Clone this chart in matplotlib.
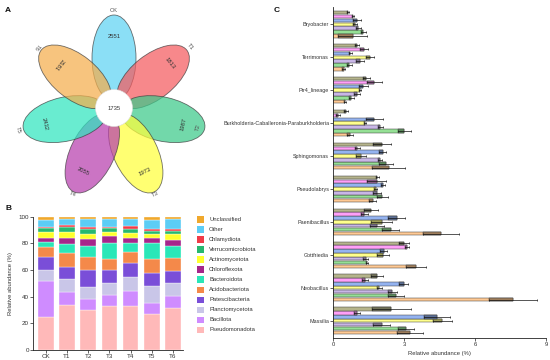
import numpy as np
import matplotlib
matplotlib.use("Agg")
import matplotlib.pyplot as plt
from matplotlib.patches import Ellipse, Circle, Rectangle
from matplotlib.colors import to_rgb

plt.rcParams['font.family'] = ['Liberation Sans', 'DejaVu Sans']
TXT = '#333333'

# ---------------- Panel A data (flower Venn) ----------------
venn_samples = ["CK", "T1", "T2", "T3", "T4", "T5", "T6"]
venn_unique = [2551, 1813, 1987, 1973, 2055, 2432, 2181]
venn_core = 1735
venn_colors = ["#5fd3f3", "#f45a5e", "#3cc98a", "#ffff3c", "#b83fae", "#2fe5bf", "#f4ae4c"]

# ---------------- Panel B data (stacked phyla, %) ----------------
samples = ["CK", "T1", "T2", "T3", "T4", "T5", "T6"]
phyla = ["Pseudomonadota", "Bacillota", "Planctomycetota", "Patescibacteria",
         "Acidobacteriota", "Bacteroidota", "Chloroflexota", "Actinomycetota",
         "Verrucomicrobiota", "Chlamydiota", "Other", "Unclassified"]
pseudomonadota = [25, 34, 30, 33, 33, 27, 31.25]
bacillota = [27, 9.75, 8.5, 8.25, 11.25, 8.5, 9.25]
planctomycetota = [8, 9.25, 9, 8.75, 10.75, 12.5, 9.5]
patescibacteria = [9.5, 9.5, 12.5, 10, 10, 10, 9.5]
acidobacteriota = [7.5, 10.5, 9.5, 8, 8.75, 10.25, 9.75]
bacteroidota = [3.75, 6.25, 8.5, 12.5, 6.25, 11.75, 9]
chloroflexota = [3.5, 4.5, 5.25, 5.25, 4.25, 4.25, 4.25]
actinomycetota = [4.5, 4.5, 4, 2.5, 3.75, 2.5, 4.25]
verrucomicrobiota = [2.5, 3.75, 3.5, 3, 2.75, 2.75, 2.75]
chlamydiota = [1, 1.75, 1.25, 1.25, 2.25, 1.25, 1.25]
other = [5.25, 4.25, 6, 5.5, 5, 6.75, 7.25]
unclassified = [2.5, 2, 2, 2, 2, 2.5, 2]
phyla_colors = ["#ffb9b9", "#cf8cff", "#c9c6e8", "#7a4ed8", "#f4894a", "#2ae7b8",
                "#a6268b", "#ffff2e", "#27b86f", "#f03b47", "#5ccdf5", "#f0a82c"]

# ---------------- Panel C data (genera, mean and SD %) ----------------
genera = ["Bryobacter", "Terrimonas", "Pir4_lineage",
          "Burkholderia-Caballeronia-Paraburkholderia", "Sphingomonas",
          "Pseudolabrys", "Paenibacillus", "Gottfriedia", "Neobacillus", "Massilia"]
ck_mean = [0.82, 0.44, 0.50, 0.69, 2.35, 1.66, 4.55, 3.50, 7.60, 3.25]
ck_sd = [0.62, 0.07, 0.04, 0.13, 0.70, 0.14, 0.75, 0.43, 1.00, 0.55]
t1_mean = [1.27, 0.68, 0.77, 3.00, 2.24, 2.07, 2.43, 1.42, 2.66, 3.08]
t1_sd = [0.10, 0.10, 0.10, 0.27, 0.29, 0.24, 0.35, 0.05, 0.35, 0.35]
t2_mean = [1.06, 1.13, 1.00, 1.99, 1.97, 1.85, 1.85, 1.37, 2.50, 2.04]
t2_sd = [0.10, 0.17, 0.14, 0.10, 0.08, 0.17, 0.30, 0.10, 0.18, 0.36]
t3_mean = [0.93, 1.56, 1.13, 1.33, 1.17, 1.80, 2.05, 2.10, 1.95, 4.62]
t3_sd = [0.08, 0.16, 0.06, 0.05, 0.23, 0.06, 0.45, 0.24, 0.10, 0.40]
t4_mean = [1.01, 0.72, 1.27, 1.74, 2.10, 2.09, 2.68, 2.13, 2.98, 4.37]
t4_sd = [0.17, 0.06, 0.18, 0.37, 0.15, 0.08, 0.35, 0.15, 0.20, 0.55]
t5_mean = [0.83, 1.30, 1.74, 0.21, 1.01, 1.83, 1.32, 3.12, 1.33, 1.00]
t5_sd = [0.05, 0.18, 0.33, 0.08, 0.10, 0.39, 0.14, 0.08, 0.13, 0.14]
t6_mean = [0.63, 1.01, 1.40, 0.54, 2.07, 1.87, 1.60, 3.00, 1.86, 2.46]
t6_sd = [0.04, 0.08, 0.16, 0.10, 0.38, 0.05, 0.29, 0.22, 0.25, 0.82]
genus_colors = ["#ffc993", "#95e095", "#c8b6e6", "#ffff8c", "#94b3f0", "#ff9ff8", "#b5b48c"]

fig = plt.figure(figsize=(5.5, 3.6), dpi=100)
W, H = 550.0, 360.0

# overlay axes in pixel coordinates (y up)
ov = fig.add_axes([0, 0, 1, 1])
ov.set_xlim(0, W)
ov.set_ylim(0, H)
ov.axis('off')

def P(y):
    return H - y

# ---------- Panel A ----------
cx, cy = 114.0, 108.0
d, a, b = 50.0, 43.0, 22.0
label_dist = [97, 98, 86, 96, 96, 98, 98]
for k, (name, cnt, col) in enumerate(zip(venn_samples, venn_unique, venn_colors)):
    th = 90 - k * 360.0 / 7
    t = np.deg2rad(th)
    ex, ey = cx + d * np.cos(t), P(cy) + d * np.sin(t)
    ov.add_patch(Ellipse((ex, ey), 2 * a, 2 * b, angle=th, facecolor=col,
                         alpha=0.72, edgecolor='#3a3a3a', lw=0.6, zorder=2))
for k, (name, cnt, col) in enumerate(zip(venn_samples, venn_unique, venn_colors)):
    th = 90 - k * 360.0 / 7
    t = np.deg2rad(th)
    rot = th - 90 if th > 0 else th + 90
    nx, ny = cx + 71 * np.cos(t), P(cy) + 71 * np.sin(t)
    ov.text(nx, ny, str(cnt), rotation=rot, ha='center', va='center',
            fontsize=4.2, color=TXT, zorder=5, rotation_mode='anchor')
    ld = label_dist[k]
    lx, ly = cx + ld * np.cos(t), P(cy) + ld * np.sin(t)
    ov.text(lx, ly, name, rotation=rot, ha='center', va='center',
            fontsize=4.2, color='#555555', zorder=5, rotation_mode='anchor')
ov.add_patch(Circle((cx, P(cy)), 18.5, facecolor='white', edgecolor='#dddddd',
                    lw=0.4, zorder=4))
ov.text(cx, P(cy), str(venn_core), ha='center', va='center', fontsize=4.2,
        color=TXT, zorder=5)

# panel letters
for lab, x, y in [("A", 8, 10), ("B", 8, 208), ("C", 277, 10)]:
    ov.text(x, P(y), lab, fontsize=6, fontweight='bold', ha='center',
            va='center', color='#111111')

# ---------- Panel B ----------
axb = fig.add_axes([33 / W, 1 - 350 / H, (183 - 33) / W, (350 - 216.7) / H])
series_b = [pseudomonadota, bacillota, planctomycetota, patescibacteria,
            acidobacteriota, bacteroidota, chloroflexota, actinomycetota,
            verrucomicrobiota, chlamydiota, other, unclassified]
xb = np.arange(len(samples))
bottom = np.zeros(len(samples))
for vals, col in zip(series_b, phyla_colors):
    v = np.array(vals, dtype=float)
    axb.bar(xb, v, bottom=bottom, width=0.74, color=col, edgecolor='white',
            linewidth=0.25)
    bottom += v
axb.set_xlim(-0.6, 6.47)
axb.set_ylim(0, 100)
axb.set_yticks([0, 20, 40, 60, 80, 100])
axb.set_xticks(xb)
axb.set_xticklabels(samples)
for s in ['top', 'right']:
    axb.spines[s].set_visible(False)
for s in ['left', 'bottom']:
    axb.spines[s].set_linewidth(0.6)
    axb.spines[s].set_color('#222222')
axb.tick_params(axis='both', labelsize=4.5, length=2, width=0.5, pad=1,
                colors='#222222', labelcolor=TXT)
axb.set_ylabel("Relative abundance (%)", fontsize=4.2, color=TXT, labelpad=4)

# legend B (top = Unclassified)
for i, (name, col) in enumerate(zip(phyla[::-1], phyla_colors[::-1])):
    yc = 219.3 + i * 10.06
    ov.add_patch(Rectangle((197, P(yc) - 3.2), 6.6, 6.4, facecolor=col,
                           edgecolor='none'))
    ov.text(209, P(yc), name, fontsize=4.2, va='center', ha='left', color=TXT)

# ---------- Panel C ----------
axc = fig.add_axes([333.3 / W, 1 - 337.7 / H, 212.7 / W, 330.4 / H])
means = [ck_mean, t1_mean, t2_mean, t3_mean, t4_mean, t5_mean, t6_mean]
sds = [ck_sd, t1_sd, t2_sd, t3_sd, t4_sd, t5_sd, t6_sd]
ng = len(genera)
centers = (ng - 1 - np.arange(ng)) * 8.4  # top genus highest
for j, (m, sd, col) in enumerate(zip(means, sds, genus_colors)):
    m = np.array(m)
    sd = np.array(sd)
    y = centers + (j - 3) * 1.0
    dark = tuple(c * 0.62 for c in to_rgb(col))
    axc.barh(y, m, height=0.82, color=col, edgecolor='#3a3a3a', linewidth=0.35,
             zorder=2)
    axc.barh(y, sd, left=m - sd, height=0.82, color=dark, edgecolor='#3a3a3a',
             linewidth=0.35, zorder=3)
    axc.errorbar(m, y, xerr=sd, fmt='none', ecolor='#111111', elinewidth=0.5,
                 capsize=1.0, capthick=0.5, zorder=4)
axc.set_xlim(0, 9)
axc.set_ylim(-4.3, 79.9)
axc.set_xticks([0, 3, 6, 9])
axc.set_yticks(centers)
axc.set_yticklabels(genera)
for s in ['top', 'right']:
    axc.spines[s].set_visible(False)
for s in ['left', 'bottom']:
    axc.spines[s].set_linewidth(0.6)
    axc.spines[s].set_color('#222222')
axc.tick_params(axis='both', labelsize=3.9, length=2, width=0.5, pad=1,
                colors='#222222', labelcolor=TXT)
axc.tick_params(axis='x', labelsize=4.2)
axc.set_xlabel("Relative abundance (%)", fontsize=4.2, color=TXT, labelpad=3)

# legend C
for j, (name, col) in enumerate(zip(samples, genus_colors)):
    yc = 12.3 + j * 6.73
    ov.add_patch(Rectangle((523, P(yc) - 2.3), 10, 4.6, facecolor=col,
                           edgecolor='#3a3a3a', lw=0.4))
    ov.text(535, P(yc), name, fontsize=4.0, va='center', ha='left', color=TXT)

fig.savefig("out.png", dpi=100)
